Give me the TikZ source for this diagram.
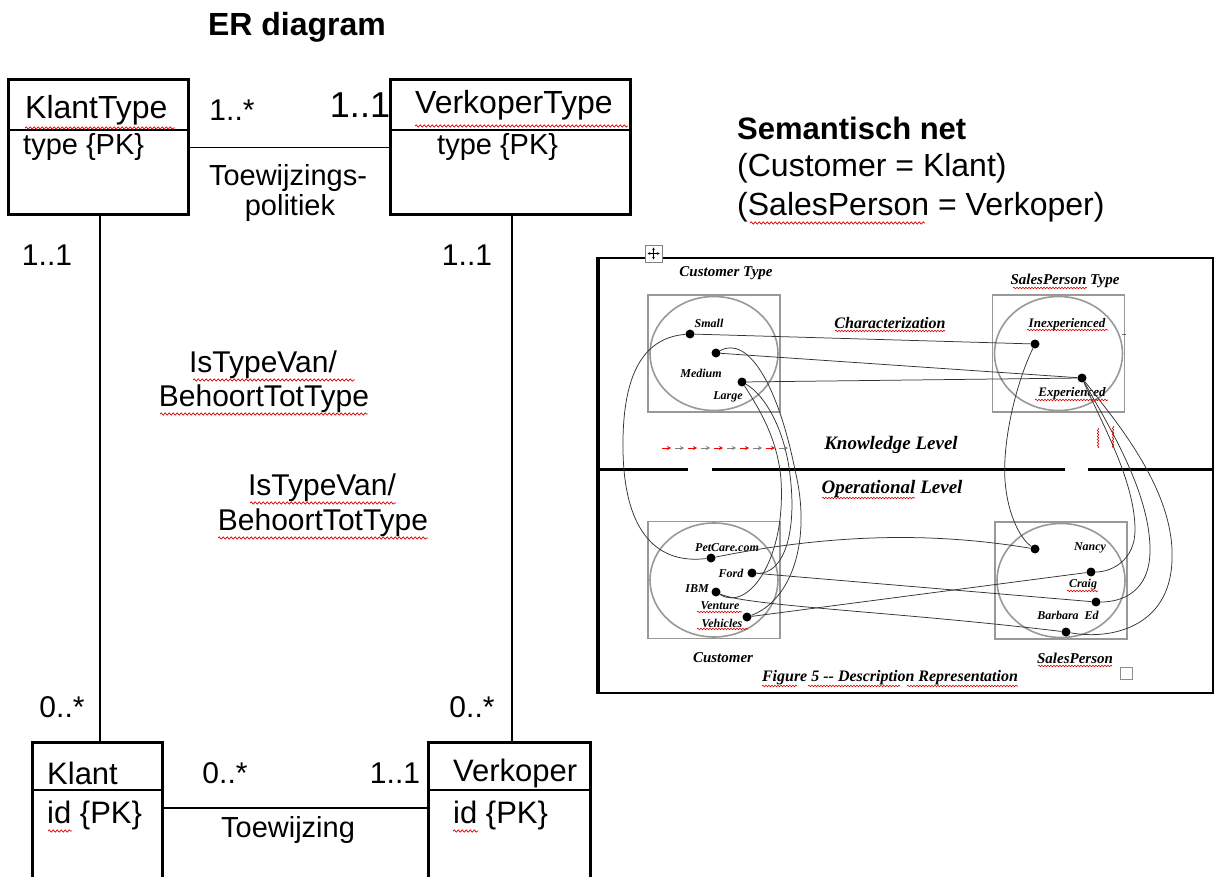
\documentclass[tikz,border=0pt]{standalone}
\usepackage{fontspec}
\setmainfont{Liberation Sans}
\newfontfamily\netfont{Liberation Serif}
\usetikzlibrary{decorations.pathmorphing,arrows.meta}
\newcommand\myfs[1]{\fontsize{#1}{#1}\selectfont}

\begin{document}
\begin{tikzpicture}[x=1pt,y=-1pt,
  erbox/.style={draw, line width=3pt, inner sep=0, outer sep=0},
  divider/.style={line width=1.4pt},
  conn/.style={line width=1.6pt},
  vconn/.style={line width=2.6pt},
  lbl/.style={inner sep=0, font=\myfs{30}},
  typebox/.style={draw=black!40, line width=1.6pt, inner sep=0, outer sep=0, minimum width=132pt, minimum height=117pt},
  dot/.style={circle, fill=black, inner sep=0, minimum size=9pt},
  link/.style={line width=0.75pt, black!80},
  netlbl/.style={inner sep=0, font=\netfont\bfseries\itshape\myfs{12}},
  nethead/.style={inner sep=0, font=\netfont\bfseries\itshape\myfs{15}},
  squig/.style={red!85!black, line width=0.7pt, decorate, decoration={snake, amplitude=1.1pt, segment length=4pt}},
  squigs/.style={red!85!black, line width=0.6pt, decorate, decoration={snake, amplitude=0.8pt, segment length=3pt}},
]
\useasboundingbox (0,0) rectangle (1215,877);
\fill[white] (0,0) rectangle (1215,877);

% ---------------- ER diagram ----------------
\node[inner sep=0, font=\bfseries\myfs{32}] (ertitle) at (297,27) {ER diagram};

% entity boxes
\node[erbox, minimum width=180pt, minimum height=135pt] (klanttype) at (98,147.5) {};
\node[erbox, minimum width=240pt, minimum height=135pt] (verkopertype) at (510,147.5) {};
\node[erbox, minimum width=130pt, minimum height=160pt] (klant) at (97,822) {};
\node[erbox, minimum width=162pt, minimum height=160pt] (verkoper) at (509,822) {};

\draw[divider] ([yshift=-50pt]klanttype.north west) -- ([yshift=-50pt]klanttype.north east);
\draw[divider] ([yshift=-50pt]verkopertype.north west) -- ([yshift=-50pt]verkopertype.north east);
\draw[divider] ([yshift=-48pt]klant.north west) -- ([yshift=-48pt]klant.north east);
\draw[divider] ([yshift=-48pt]verkoper.north west) -- ([yshift=-48pt]verkoper.north east);

% entity texts
\node[lbl, anchor=west, font=\myfs{32}] (tKT) at (25,110) {KlantType};
\node[lbl, anchor=west, font=\myfs{29}] (tKTa) at (23,147) {type \{PK\}};
\node[lbl, anchor=west, font=\myfs{32}] (tVT) at (415,105) {VerkoperType};
\node[lbl, anchor=west, font=\myfs{29}] (tVTa) at (437,147) {type \{PK\}};
\node[lbl, anchor=west, font=\myfs{31}] (tK) at (47,773) {Klant};
\node[lbl, anchor=west, font=\myfs{31}] (tKa) at (47,815) {id \{PK\}};
\node[lbl, anchor=west, font=\myfs{31}] (tV) at (453,773) {Verkoper};
\node[lbl, anchor=west, font=\myfs{31}] (tVa) at (453,815) {id \{PK\}};

% relationships
\draw[conn] (klanttype.east) -- (verkopertype.west);
\draw[conn] ([yshift=14pt]klant.east) -- ([yshift=14pt]verkoper.west);
\draw[vconn] ([xshift=2pt]klanttype.south) -- ([xshift=2pt]klanttype.south |- klant.north);
\draw[vconn] ([xshift=2pt]verkopertype.south) -- ([xshift=2pt]verkopertype.south |- verkoper.north);

% multiplicities and role names
\node[lbl, font=\myfs{30}] (m1) at (232,110) {1..*};
\node[lbl, font=\myfs{36}] (m2) at (360,105) {1..1};
\node[lbl, font=\myfs{29}] (r1a) at (288,178) {Toewijzings-};
\node[lbl, font=\myfs{29}] (r1b) at (290,208) {politiek};
\node[lbl, font=\myfs{30}] (m3) at (47,255) {1..1};
\node[lbl, font=\myfs{30}] (m4) at (467,255) {1..1};
\node[lbl, font=\myfs{30}] (r2a) at (263,365) {IsTypeVan/};
\node[lbl, font=\myfs{30}] (r2b) at (264,399) {BehoortTotType};
\node[lbl, font=\myfs{30}] (r3a) at (322,488) {IsTypeVan/};
\node[lbl, font=\myfs{30}] (r3b) at (323,523) {BehoortTotType};
\node[lbl, font=\myfs{30}] (m5) at (62,707) {0..*};
\node[lbl, font=\myfs{30}] (m6) at (472,707) {0..*};
\node[lbl, font=\myfs{30}] (m7) at (225,773) {0..*};
\node[lbl, font=\myfs{30}] (m8) at (395,773) {1..1};
\node[lbl, font=\myfs{29}] (r4) at (288,830) {Toewijzing};

% spell-check underlines
\draw[squig] (25,128) -- (175,128);
\draw[squig] (415,126) -- (628,126);
\draw[squig] (193,380) -- (355,380);
\draw[squig] (160,414) -- (368,414);
\draw[squig] (250,503) -- (396,503);
\draw[squig] (218,538) -- (428,538);
\draw[squig] (48,831) -- (72,831);
\draw[squig] (453,831) -- (478,831);

% ---------------- Semantic net header ----------------
\node[lbl, anchor=west, font=\bfseries\myfs{31}] (snt) at (737,128) {Semantisch net};
\node[lbl, anchor=west, font=\myfs{32}] (sn1) at (737,168) {(Customer = Klant)};
\node[lbl, anchor=west, font=\myfs{32}] (sn2) at (737,207) {(SalesPerson = Verkoper)};
\draw[squig] (750,223) -- (925,223);

% ---------------- Semantic net figure ----------------
\draw[line width=2.4pt] (597,258) rectangle (1213,693);
\draw[line width=1.2pt] (599,258) -- (599,693);
\draw[line width=3pt] (597,469) -- (688,469);
\draw[line width=3pt] (712,469) -- (1065,469);
\draw[line width=3pt] (1088,469) -- (1213,469);

% move handle
\node[draw=black!50, fill=white, line width=0.8pt, minimum size=17pt, inner sep=0] (handle) at (653.5,253.5) {};
\foreach \dx/\dy in {0/-6,0/6,-6/0,6/0}
  \draw[line width=0.6pt, -{Stealth[length=2.5pt,width=2.5pt]}] (handle.center) -- ++(\dx,\dy);

% type and instance sets
\node[typebox] (ctype) at (714,353.5) {};
\node[typebox] (stype) at (1058.5,353.5) {};
\node[typebox] (cust) at (714,580) {};
\node[typebox] (sales) at (1061,580.5) {};
\foreach \b in {ctype,stype,cust,sales}
  \draw[black!40, line width=1.6pt] (\b.center) ellipse [x radius=64, y radius=57];
\draw[black!60, line width=0.8pt] (1122,334) -- (1126,334);

% headings
\node[nethead] (hct) at (726,273) {Customer Type};
\node[nethead] (hst) at (1065,281) {SalesPerson Type};
\node[nethead, font=\netfont\bfseries\itshape\myfs{16}] (hch) at (890,323) {Characterization};
\node[nethead, font=\netfont\bfseries\itshape\myfs{19}] (hkl) at (891,445) {Knowledge Level};
\node[nethead, font=\netfont\bfseries\itshape\myfs{19}] (hol) at (892,489) {Operational Level};
\node[nethead] (hcu) at (723,658) {Customer};
\node[nethead] (hsp) at (1075,658) {SalesPerson};
\node[nethead, font=\netfont\bfseries\itshape\myfs{16}] (hfig) at (890,678) {Figure 5 -- Description Representation};
\node[draw=black!45, line width=0.8pt, minimum size=12pt, inner sep=0] (box) at (1126,673) {};

% instance labels
\node[netlbl] (lsmall) at (709,323) {Small};
\node[netlbl] (lmed) at (701,373) {Medium};
\node[netlbl] (llarge) at (728,397) {Large};
\node[netlbl, font=\netfont\bfseries\itshape\myfs{13}] (linexp) at (1067,324) {Inexperienced};
\node[netlbl, font=\netfont\bfseries\itshape\myfs{13}] (lexp) at (1072,393) {Experienced};
\node[netlbl] (lpet) at (727,548) {PetCare.com};
\node[netlbl] (lford) at (731,573) {Ford};
\node[netlbl] (libm) at (697,589) {IBM};
\node[netlbl] (lventure) at (720,606) {Venture};
\node[netlbl] (lveh) at (722,623) {Vehicles};
\node[netlbl] (lnancy) at (1090,548) {Nancy};
\node[netlbl] (lcraig) at (1083,585) {Craig};
\node[netlbl] (lbe) at (1068,615) {Barbara\enspace Ed};

% instance dots
\node[dot] (small) at (690,334) {};
\node[dot] (medium) at (716,353) {};
\node[dot] (large) at (742,382) {};
\node[dot] (inexp) at (1035,344) {};
\node[dot] (exper) at (1082,378) {};
\node[dot] (petcare) at (711,558) {};
\node[dot] (ford) at (752,573) {};
\node[dot] (ibm) at (716,592) {};
\node[dot] (vehicles) at (747,617) {};
\node[dot] (nancy) at (1035,549) {};
\node[dot] (craig) at (1091,572) {};
\node[dot] (ed) at (1096,602) {};
\node[dot] (barbara) at (1066,632) {};

% characterization links
\draw[link] (small) -- (inexp);
\draw[link] (medium) -- (exper);
\draw[link] (large) -- (exper);

% customer to customer type
\draw[link] (small) .. controls (640,338) and (622,380) .. (623,450)
                    .. controls (624,525) and (652,565) .. (petcare);
\draw[link] (medium) .. controls (748,335) and (778,385) .. (795,470)
                     .. controls (812,540) and (792,600) .. (vehicles);
\draw[link] (large) .. controls (765,395) and (785,430) .. (790,475)
                    .. controls (797,530) and (785,575) .. (ford);
\draw[link] (large) .. controls (760,410) and (778,440) .. (781,480)
                    .. controls (786,560) and (748,612) .. (ibm);

% salesperson to salesperson type
\draw[link] (inexp) .. controls (1015,385) and (1000,450) .. (1006,490)
                    .. controls (1010,520) and (1022,540) .. (nancy);
\draw[link] (exper) .. controls (1100,420) and (1135,480) .. (1135,530)
                    .. controls (1135,560) and (1112,572) .. (craig);
\draw[link] (exper) .. controls (1105,420) and (1150,490) .. (1150,550)
                    .. controls (1150,592) and (1122,602) .. (ed);
\draw[link] (exper) .. controls (1115,420) and (1175,490) .. (1172,560)
                    .. controls (1170,628) and (1110,640) .. (barbara);

% customer to salesperson
\draw[link] (petcare) .. controls (850,530) and (950,535) .. (nancy);
\draw[link] (ford) -- (ed);
\draw[link] (vehicles) -- (craig);
\draw[link] (ibm) .. controls (745,606) and (900,612) .. (barbara);

% red arrow row
\foreach \x/\c in {662/red,675/black!50,688/red,701/black!50,714/red,727/black!50,740/red,753/black!50,766/red,779/black!50}
  \draw[\c, line width=0.8pt, -{Stealth[length=4pt,width=4pt]}] (\x,448) -- ++(9,0);

% rotated remark marks
\draw[squigs] (1098,428) -- (1098,448);
\draw[squigs] (1113,426) -- (1113,448);

% spell-check underlines in the figure
\draw[squigs] (835,331) -- (945,331);
\draw[squigs] (1013,288) -- (1087,288);
\draw[squigs] (1027,330) -- (1108,330);
\draw[squigs] (1035,400) -- (1108,400);
\draw[squigs] (822,498) -- (915,498);
\draw[squigs] (697,612) -- (742,612);
\draw[squigs] (697,629) -- (748,629);
\draw[squigs] (1067,591) -- (1098,591);
\draw[squigs] (1038,666) -- (1112,666);
\draw[squigs] (762,686) -- (797,686);
\draw[squigs] (808,686) -- (900,686);
\draw[squigs] (907,686) -- (1018,686);
\end{tikzpicture}
\end{document}
